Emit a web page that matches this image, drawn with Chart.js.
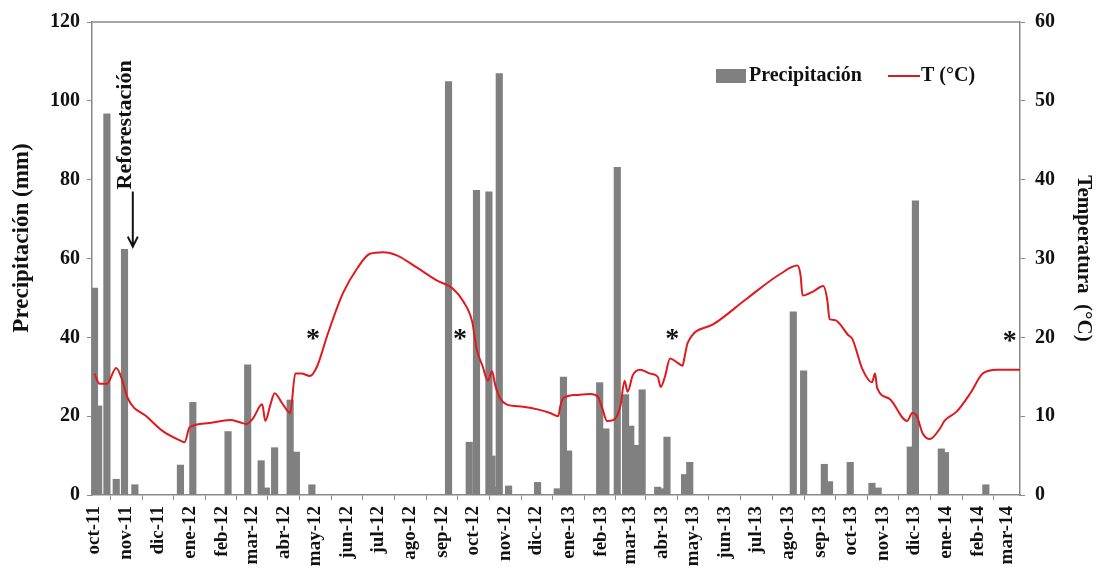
<!DOCTYPE html>
<html>
<head>
<meta charset="utf-8">
<script src="https://cdn.jsdelivr.net/npm/chart.js@4.4.1/dist/chart.umd.min.js"></script>
<style>
  body { margin: 0; background: #fff; }
</style>
</head>
<body>
<canvas id="chart" width="1101" height="569"></canvas>
<script>
// days counted from 1 Oct 2011
const startDate = Date.UTC(2011, 9, 1);

const monthLabels = ['oct-11', 'nov-11', 'dic-11', 'ene-12', 'feb-12', 'mar-12', 'abr-12', 'may-12',
  'jun-12', 'jul-12', 'ago-12', 'sep-12', 'oct-12', 'nov-12', 'dic-12', 'ene-13', 'feb-13', 'mar-13',
  'abr-13', 'may-13', 'jun-13', 'jul-13', 'ago-13', 'sep-13', 'oct-13', 'nov-13', 'dic-13', 'ene-14',
  'feb-14', 'mar-14'];

// precipitation (mm)
const precipDays = [0, 4, 12, 21, 29, 39, 83, 95, 129, 148, 161, 166, 174, 189, 195, 210,
  342, 362, 369, 381, 384, 386, 391, 400, 428, 447, 453, 458,
  488, 494, 505, 513, 518, 524, 529, 544, 548, 553, 570, 575,
  675, 685, 705, 710, 730, 751, 757, 788, 793, 818, 822, 861];
const precipMm = [52.5, 22.6, 96.7, 4.0, 62.3, 2.6, 7.6, 23.5, 16.1, 33.0, 8.7, 1.8, 12.0, 24.1, 10.9, 2.6,
  104.9, 13.4, 77.3, 76.9, 9.9, 2.0, 106.9, 2.3, 3.2, 1.6, 29.9, 11.2,
  28.5, 16.8, 83.1, 25.5, 17.5, 12.6, 26.7, 2.0, 1.6, 14.7, 5.2, 8.3,
  46.5, 31.5, 7.8, 3.4, 8.3, 3.0, 1.8, 12.2, 74.6, 11.7, 10.8, 2.6];

// temperature (°C)
const tempDays = [0, 5, 12, 21, 27, 32, 51, 66, 83, 87, 92, 109, 131, 141, 147, 153, 162, 165, 170, 174,
  181, 189, 194, 200, 208, 215, 225, 240, 254, 266, 279, 292, 312, 331, 346, 356, 365, 369, 375, 380,
  384, 387, 392, 398, 414, 430, 440, 448, 450, 453, 466, 479, 486, 491, 495, 501, 508, 512, 515, 520,
  527, 537, 544, 547, 551, 556, 563, 568, 570, 573, 597, 630, 662, 679, 682, 684, 694, 704, 708, 710,
  715, 728, 732, 742, 751, 754, 756, 768, 785, 790, 794, 800, 807, 817, 821, 833, 846, 858, 872, 894];
const tempC = [15.4, 14.1, 14.1, 16.1, 14.5, 12.3, 9.9, 8.1, 6.9, 6.7, 8.6, 9.1, 9.5, 9.2, 9.0, 9.7, 11.5, 9.4, 11.5, 12.9,
  11.7, 10.4, 15.4, 15.4, 15.1, 16.3, 20.3, 25.6, 28.8, 30.6, 30.8, 30.4, 28.8, 27.2, 26.2, 24.6, 21.9, 18.6, 16.3, 14.5,
  15.7, 14.0, 12.2, 11.5, 11.2, 10.8, 10.4, 10.0, 11.3, 12.3, 12.7, 12.8, 12.5, 10.8, 9.4, 9.5, 11.3, 14.5, 13.1, 15.2,
  15.9, 15.4, 15.0, 13.7, 15.0, 17.3, 16.8, 16.4, 17.5, 19.3, 21.6, 24.9, 28.0, 29.1, 27.9, 25.3, 25.8, 26.5, 24.6, 22.3,
  22.2, 20.3, 19.8, 15.9, 14.3, 15.4, 13.6, 12.2, 9.4, 10.4, 10.1, 7.8, 7.1, 8.5, 9.4, 10.6, 12.9, 15.4, 15.9, 15.9];

// asterisks (day, °C) and reforestation arrow (day, mm)
const starDays = [211, 353, 558, 884];
const starTemps = [20.7, 20.7, 20.7, 20.4];
const reforestDay = 37;
const reforestFrom = 77;
const reforestTo = 63;

const monthDays = monthLabels.map((m, i) => (Date.UTC(2011, 9 + i, 1) - startDate) / 86400000);

const serif = 'Liberation Serif, Times New Roman, serif';
const axisGray = '#8a8a8a';

const extras = {
  id: 'extras',
  afterDraw(chart) {
    const { ctx, chartArea, scales } = chart;
    const x = scales.x, y = scales.y, y2 = scales.y2;
    ctx.save();

    // top frame line
    ctx.strokeStyle = axisGray;
    ctx.lineWidth = 1.5;
    ctx.beginPath();
    ctx.moveTo(chartArea.left, chartArea.top);
    ctx.lineTo(chartArea.right, chartArea.top);
    ctx.stroke();

    // left axis title (sits a bit above the middle in the original)
    ctx.save();
    ctx.translate(22, 238);
    ctx.rotate(-Math.PI / 2);
    ctx.fillStyle = '#111';
    ctx.font = 'bold 23px ' + serif;
    ctx.textAlign = 'center';
    ctx.textBaseline = 'middle';
    ctx.fillText('Precipitación (mm)', 0, 0);
    ctx.restore();

    // legend
    ctx.fillStyle = '#808080';
    ctx.fillRect(716, 69, 30, 14);
    ctx.fillStyle = '#111';
    ctx.font = 'bold 20px ' + serif;
    ctx.textBaseline = 'middle';
    ctx.textAlign = 'left';
    ctx.fillText('Precipitación', 749, 76);
    ctx.strokeStyle = '#e0191e';
    ctx.lineWidth = 2;
    ctx.beginPath();
    ctx.moveTo(888, 76);
    ctx.lineTo(920, 76);
    ctx.stroke();
    ctx.fillText('T (°C)', 921, 76);

    // asterisks
    ctx.font = 'bold 28px ' + serif;
    ctx.textAlign = 'center';
    ctx.textBaseline = 'alphabetic';
    starDays.forEach((d, i) => {
      ctx.fillText('*', x.getPixelForValue(d), y2.getPixelForValue(starTemps[i]) + 15);
    });

    // reforestation arrow + label
    const ax = x.getPixelForValue(reforestDay);
    const ay1 = y.getPixelForValue(reforestFrom);
    const ay2 = y.getPixelForValue(reforestTo);
    ctx.strokeStyle = '#111';
    ctx.lineWidth = 2;
    ctx.beginPath();
    ctx.moveTo(ax, ay1);
    ctx.lineTo(ax, ay2);
    ctx.moveTo(ax - 5, ay2 - 10);
    ctx.lineTo(ax, ay2);
    ctx.lineTo(ax + 5, ay2 - 10);
    ctx.stroke();

    ctx.save();
    ctx.translate(ax - 7, ay1 - 2);
    ctx.rotate(-Math.PI / 2);
    ctx.font = 'bold 22px ' + serif;
    ctx.textAlign = 'left';
    ctx.textBaseline = 'middle';
    ctx.fillText('Reforestación', 0, 0);
    ctx.restore();

    ctx.restore();
  }
};

const tickFont = { family: serif, size: 20, weight: 'bold' };

new Chart(document.getElementById('chart'), {
  type: 'bar',
  data: {
    datasets: [
      {
        type: 'line',
        label: 'T (°C)',
        data: tempDays.map((d, i) => ({ x: d, y: tempC[i] })),
        borderColor: '#e0191e',
        borderWidth: 2,
        pointRadius: 0,
        cubicInterpolationMode: 'monotone',
        yAxisID: 'y2',
        order: 0,
      },
      {
        type: 'bar',
        label: 'Precipitación',
        data: precipDays.map((d, i) => ({ x: d, y: precipMm[i] })),
        backgroundColor: '#808080',
        borderWidth: 0,
        barThickness: 6.5,
        yAxisID: 'y',
        order: 1,
      },
    ],
  },
  options: {
    responsive: false,
    animation: false,
    layout: { padding: { top: 22, left: 0, right: 0, bottom: 0 } },
    plugins: {
      legend: { display: false },
      tooltip: { enabled: false },
    },
    scales: {
      x: {
        type: 'linear',
        min: -2.4,
        max: 894,
        offset: false,
        afterBuildTicks: (scale) => {
          scale.ticks = monthDays.map((v) => ({ value: v }));
        },
        afterFit: (scale) => { scale.height = 74; },
        ticks: {
          autoSkip: false,
          minRotation: 90,
          maxRotation: 90,
          padding: 6,
          color: '#111',
          font: { family: serif, size: 19, weight: 'bold' },
          callback: (value, index) => monthLabels[index],
        },
        grid: { drawOnChartArea: false, tickLength: 5, color: axisGray },
        border: { color: axisGray, width: 1.5 },
      },
      y: {
        position: 'left',
        min: 0,
        max: 120,
        afterFit: (scale) => { scale.width = 92; },
        ticks: { stepSize: 20, padding: 7, color: '#111', font: tickFont },
        grid: { drawOnChartArea: false, tickLength: 5, color: axisGray },
        border: { color: axisGray, width: 1.5 },
      },
      y2: {
        position: 'right',
        min: 0,
        max: 60,
        afterFit: (scale) => { scale.width = 81; },
        ticks: { stepSize: 10, padding: 10, color: '#111', font: tickFont },
        grid: { drawOnChartArea: false, tickLength: 5, color: axisGray },
        border: { color: axisGray, width: 1.5 },
        title: {
          display: true,
          text: 'Temperatura  (°C)',
          color: '#111',
          font: { family: serif, size: 21, weight: 'bold' },
          padding: { top: 5 },
        },
      },
    },
  },
  plugins: [extras],
});
</script>
</body>
</html>
